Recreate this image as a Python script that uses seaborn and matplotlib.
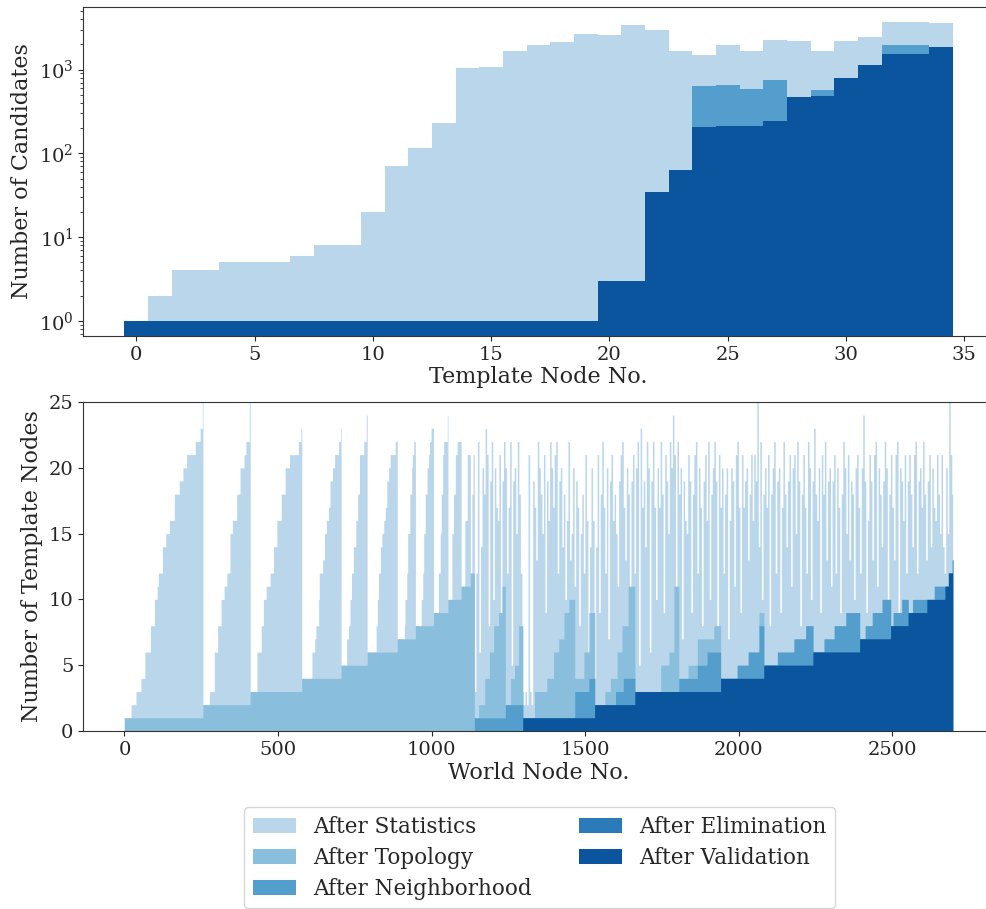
import numpy as np
import matplotlib
matplotlib.use("Agg")
import matplotlib.pyplot as plt
import seaborn as sns

stages = ["After Statistics", "After Topology", "After Neighborhood",
          "After Elimination", "After Validation"]

# ---- top panel: candidates per template node (log scale) ----
template_nodes = list(range(35))
tmpl_statistics = [1, 2, 4, 4, 5, 5, 5, 6, 8, 8, 20, 70, 115, 230, 1050, 1070, 1680,
                   1950, 2140, 2660, 2610, 3440, 2940, 1680, 1506, 1950, 1680, 2280,
                   2200, 1680, 2200, 2470, 3735, 3735, 3640]
# topology and elimination are hidden under the next stage in this panel
tmpl_topology = [1, 1, 1, 1, 1, 1, 1, 1, 1, 1, 1, 1, 1, 1, 1, 1, 1, 1, 1, 1, 3, 3,
                 35, 64, 630, 650, 587, 757, 475, 565, 794, 1123, 1950, 1960, 1870]
tmpl_neighborhood = [1, 1, 1, 1, 1, 1, 1, 1, 1, 1, 1, 1, 1, 1, 1, 1, 1, 1, 1, 1, 3, 3,
                     35, 64, 630, 650, 587, 757, 475, 565, 794, 1123, 1950, 1960, 1870]
tmpl_elimination = [1, 1, 1, 1, 1, 1, 1, 1, 1, 1, 1, 1, 1, 1, 1, 1, 1, 1, 1, 1, 3, 3,
                    35, 64, 206, 210, 210, 243, 475, 484, 794, 1123, 1535, 1535, 1870]
tmpl_validation = [1, 1, 1, 1, 1, 1, 1, 1, 1, 1, 1, 1, 1, 1, 1, 1, 1, 1, 1, 1, 3, 3,
                   35, 64, 206, 210, 210, 243, 475, 484, 794, 1123, 1535, 1535, 1870]

# ---- bottom panel: template nodes per world node ----
n_world = 2698

# statistics layer, sorted ramps (run start node -> value)
stat_starts = [0, 22, 38, 54, 67, 85, 98, 107, 111, 124, 135, 147, 163, 179, 191, 203, 231, 247, 254,
               256, 277, 293, 304, 315, 325, 334, 344, 352, 366, 377, 390, 396, 407,
               410, 432, 446, 453, 462, 475, 486, 497, 511, 524, 538, 567, 575,
               578, 611, 620, 624, 633, 635, 646, 652, 658, 665, 670, 678, 685, 698, 704,
               706, 724, 730, 735, 740, 746, 754, 760, 766, 780, 788,
               791, 820, 824, 828, 834, 839, 845, 850, 855, 861, 866, 882,
               889, 912, 914, 920, 923, 930, 936, 938, 943,
               948, 967, 972, 975, 980, 986, 991, 994, 999,
               1007, 1023, 1029, 1032, 1037, 1040, 1052,
               1054, 1067, 1072, 1078, 1084,
               1097, 1109, 1117,
               1127, 1132, 1136]
stat_vals = [1, 2, 3, 4, 6, 8, 10, 11, 12, 14, 15, 16, 18, 19, 20, 21, 22, 23, 25,
             2, 3, 6, 8, 10, 11, 12, 15, 16, 18, 20, 21, 22, 25,
             3, 6, 8, 10, 11, 12, 14, 16, 18, 20, 21, 22, 23,
             4, 6, 7, 8, 10, 12, 13, 15, 16, 17, 19, 20, 21, 22, 23,
             5, 7, 8, 10, 12, 14, 16, 18, 21, 22, 24,
             6, 8, 10, 12, 14, 15, 16, 17, 19, 20, 21, 22,
             7, 8, 10, 12, 15, 18, 20, 21, 22,
             8, 10, 12, 15, 18, 20, 21, 22, 23,
             9, 12, 15, 18, 21, 22, 24,
             10, 15, 18, 21, 22,
             11, 16, 21,
             12, 18, 21]
# dense part from node 1140 on: one value per block of 5 world nodes
dense_start = 1140
stat_dense = [
    3, 12, 22, 6, 14, 20, 18, 23, 21, 8, 19, 22, 10, 20, 17, 16, 21, 6, 19, 22, 20, 12, 17, 22, 5, 19,
    20, 15, 22, 18, 12, 3, 2, 3, 2, 21, 3, 2, 19, 17, 13, 22, 20, 18, 15, 21, 9, 19, 16, 22, 20, 17,
    21, 22, 12, 19, 20, 14, 18, 10, 16, 22, 13, 15, 20, 11, 19, 17, 8, 15, 18, 12, 21, 16, 6, 14, 20, 16,
    4, 14, 21, 9, 18, 22, 17, 12, 20, 7, 19, 21, 16, 18, 15, 11, 19, 21, 22, 17, 13, 20, 18, 8, 19, 21,
    12, 20, 22, 5, 23, 17, 19, 14, 22, 20, 6, 19, 22, 17, 10, 20, 17, 22, 18, 9, 21, 19, 15, 22, 20, 24,
    21, 11, 22, 18, 20, 7, 19, 16, 15, 21, 19, 9, 18, 21, 22, 12, 20, 17, 8, 19, 21, 16, 22, 10, 18, 20,
    22, 19, 8, 21, 17, 20, 12, 18, 20, 7, 16, 20, 19, 11, 21, 22, 17, 9, 21, 17, 19, 20, 13, 18, 21, 16,
    21, 19, 25, 14, 22, 10, 18, 20, 17, 21, 8, 18, 20, 22, 12, 19, 20, 9, 17, 22, 18, 14, 19, 21, 11, 20,
    21, 15, 22, 19, 8, 18, 21, 17, 12, 22, 20, 10, 19, 23, 18, 16, 20, 9, 21, 18, 22, 13, 19, 20, 11, 19,
    21, 12, 20, 17, 9, 18, 22, 20, 15, 21, 13, 19, 18, 10, 20, 21, 17, 12, 20, 24, 19, 9, 16, 21, 19, 13,
    21, 22, 11, 20, 18, 14, 19, 22, 20, 10, 18, 21, 17, 13, 21, 22, 9, 20, 19, 16, 21, 12, 19, 21, 18, 14,
    21, 22, 12, 19, 20, 17, 22, 18, 13, 19, 21, 14, 20, 17, 16, 21, 18, 15, 21, 14, 12, 20, 15, 25, 21, 18,
]

topo_starts = [0, 256, 410, 578, 706, 791, 889, 948, 1007, 1054, 1097, 1127,
               1140, 1154, 1174, 1189, 1203, 1219, 1230, 1241, 1258, 1271, 1284,
               1298, 1336, 1376, 1398, 1415, 1432, 1448, 1467, 1497, 1513,
               1532, 1565, 1583, 1605, 1621, 1641, 1663, 1747, 1774, 1790,
               1806, 1836, 1866, 1898, 1920, 1942, 1996, 2032, 2067, 2083,
               2127, 2181, 2219, 2243, 2279, 2312, 2350, 2395, 2413, 2436,
               2468, 2496, 2504, 2532, 2553, 2567, 2638, 2684, 2697]
topo_vals = [1, 2, 3, 4, 5, 6, 7, 8, 9, 10, 11, 12,
             1, 2, 4, 6, 8, 9, 11, 2, 4, 5, 8,
             1, 3, 4, 6, 7, 9, 10, 4, 6, 9,
             2, 3, 4, 6, 8, 11, 3, 5, 6, 11,
             4, 5, 7, 7, 8, 4, 5, 6, 9, 5,
             6, 7, 8, 6, 7, 8, 9, 7, 8, 9,
             10, 8, 9, 10, 9, 10, 11, 12, 13]

neigh_starts = [0, 1140, 1241, 1298, 1467, 1513, 1532, 1600, 1625, 1663, 1806, 1866,
                1898, 1942, 1996, 2032, 2067, 2083, 2127, 2181, 2219, 2243, 2279,
                2312, 2350, 2395, 2413, 2436, 2468, 2496, 2504, 2532, 2553, 2567,
                2638, 2684, 2697]
neigh_vals = [0, 1, 2, 1, 3, 4, 2, 3, 4, 3, 4, 5,
              6, 4, 5, 6, 8, 5, 6, 7, 8, 6, 7,
              8, 9, 7, 8, 9, 10, 8, 9, 10, 9, 10,
              11, 12, 13]

# elimination coincides with validation in this panel
valid_starts = [0, 1298, 1532, 1663, 1942, 2083, 2243, 2395, 2496, 2553, 2614, 2673, 2684, 2697]
valid_vals = [0, 1, 2, 3, 4, 5, 6, 7, 8, 9, 10, 11, 12, 13]


def expand(starts, vals, end):
    lens = np.diff(list(starts) + [end])
    return np.repeat(vals, lens)


world_stat = np.concatenate([expand(stat_starts, stat_vals, dense_start),
                             np.repeat(stat_dense, 5)])[:n_world]
world_topo = expand(topo_starts, topo_vals, n_world)
world_neigh = expand(neigh_starts, neigh_vals, n_world)
world_valid = expand(valid_starts, valid_vals, n_world)
world_nodes = np.arange(n_world)

sns.set_style("ticks")
plt.rcParams["font.family"] = ["DejaVu Serif"]
plt.rcParams["mathtext.fontset"] = "dejavuserif"

colors = sns.color_palette("Blues", 6)[1:]

fig = plt.figure(figsize=(9.87, 9.09), dpi=100)
ax1 = fig.add_axes([0.0841, 0.6304, 0.923, 0.362])
ax2 = fig.add_axes([0.0841, 0.1958, 0.923, 0.362])

top_layers = [tmpl_statistics, tmpl_topology, tmpl_neighborhood, tmpl_elimination, tmpl_validation]
for vals, c, lab in zip(top_layers, colors, stages):
    sns.histplot(x=template_nodes, weights=vals, discrete=True, element="step", fill=True,
                 color=c, alpha=1, linewidth=0, ax=ax1, label=lab)
ax1.set_yscale("log")
ax1.set_ylim(0.66, 5600)
ax1.set_xlim(-2.25, 36.25)
ax1.set_xticks(range(0, 40, 5))
ax1.set_xlabel("Template Node No.", fontsize=16, labelpad=2)
ax1.set_ylabel("Number of Candidates", fontsize=16)

bottom_layers = [world_stat, world_topo, world_neigh, world_valid, world_valid]
for vals, c, lab in zip(bottom_layers, colors, stages):
    sns.histplot(x=world_nodes, weights=vals, discrete=True, element="step", fill=True,
                 color=c, alpha=1, linewidth=0, ax=ax2, label=lab)
ax2.set_ylim(0, 25)
ax2.set_xlim(-135, 2832)
ax2.set_xticks(range(0, 3000, 500))
ax2.set_yticks(range(0, 30, 5))
ax2.set_xlabel("World Node No.", fontsize=16, labelpad=2)
ax2.set_ylabel("Number of Template Nodes", fontsize=16)

for ax in (ax1, ax2):
    ax.tick_params(labelsize=14)
    for s in ax.spines.values():
        s.set_color("#333333")

handles, labels = ax2.get_legend_handles_labels()
fig.legend(handles, labels, loc="upper center", bbox_to_anchor=(0.547, 0.1122), ncol=2,
           fontsize=15.5, frameon=True, edgecolor="#cccccc", borderaxespad=0,
           labelspacing=0.42, columnspacing=2.2)

fig.savefig("out.png", dpi=100)
